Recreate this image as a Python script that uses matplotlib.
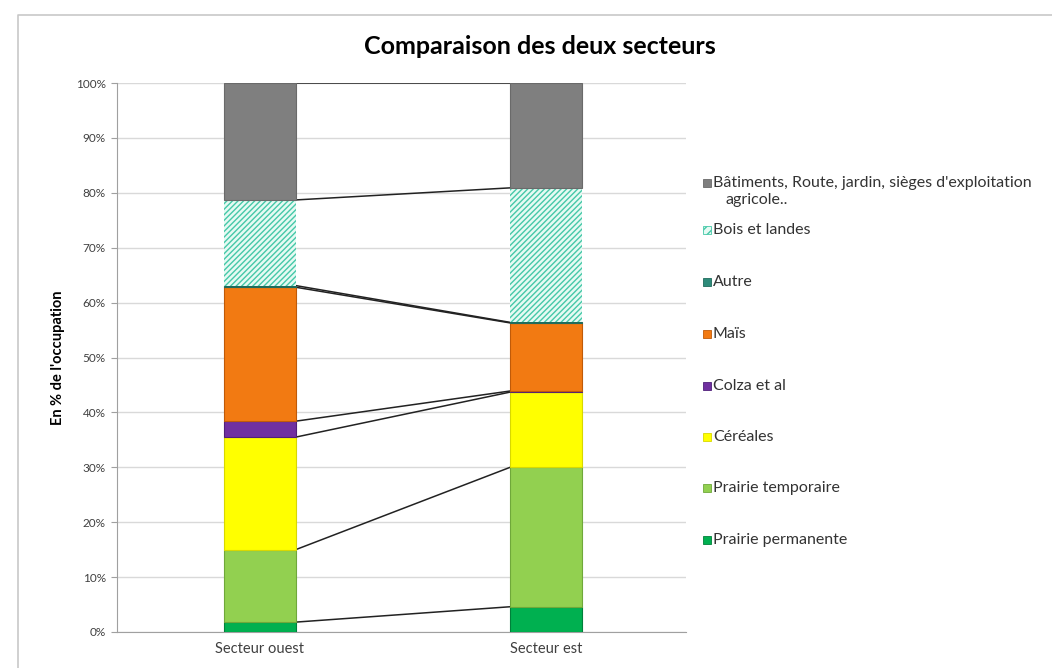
import matplotlib
matplotlib.use("Agg")
import matplotlib.pyplot as plt
import numpy as np
from matplotlib.patches import Rectangle
from matplotlib.lines import Line2D

plt.rcParams['font.family'] = ['Lato', 'DejaVu Sans']

sectors = ["Secteur ouest", "Secteur est"]
series = ["Prairie permanente", "Prairie temporaire", "Céréales", "Colza et al",
          "Maïs", "Autre", "Bois et landes",
          "Bâtiments, Route, jardin, sièges d'exploitation\nagricole.."]
prairie_permanente = [1.8, 4.6]
prairie_temporaire = [13.2, 25.4]
cereales = [20.5, 13.7]
colza = [2.9, 0.2]
mais = [24.4, 12.4]
autre = [0.3, 0.1]
bois = [15.6, 24.5]
batiments = [21.3, 19.1]
values = [prairie_permanente, prairie_temporaire, cereales, colza, mais, autre, bois, batiments]

colors = ["#00b050", "#92d050", "#ffff00", "#7030a0", "#f27a12", "#2e8b7a", "#e6faf3", "#7f7f7f"]
edges = ["#00803a", "#6fa83a", "#d8d800", "#50207a", "#c05a08", "#1f6b5c", "#45c8a8", "#6a6a6a"]

fig = plt.figure(figsize=(10.52, 6.68), dpi=100)
ax = fig.add_axes([117/1052, 1-632/668, (686-117)/1052, (632-83)/668])

x = np.arange(len(sectors))
w = 0.25
bottom = np.zeros(len(sectors))
tops = []
for i, (vals, c, e) in enumerate(zip(values, colors, edges)):
    vals = np.array(vals)
    if series[i] == "Bois et landes":
        ax.bar(x, vals, w, bottom=bottom, color=c, edgecolor=e, hatch="//////", linewidth=0, zorder=3)
    else:
        ax.bar(x, vals, w, bottom=bottom, color=c, edgecolor=e, linewidth=0.8, zorder=3)
    bottom = bottom + vals
    tops.append(bottom.copy())

for t in tops:
    ax.plot([x[0] + w/2, x[1] - w/2], [t[0], t[1]], color="#222222", lw=1.1, zorder=2)

ax.set_xlim(-0.5, 1.49)
ax.set_ylim(0, 100)
ax.set_yticks(np.arange(0, 101, 10))
ax.set_yticklabels([f"{v}%" for v in range(0, 101, 10)], fontsize=8.5, color="#404040")
ax.set_xticks(x)
ax.set_xticklabels(sectors, fontsize=10.5, color="#404040")
ax.tick_params(axis='x', length=0, pad=7)
ax.tick_params(axis='y', length=4, color="#a0a0a0", pad=4)
ax.yaxis.grid(True, color="#d9d9d9", lw=1, zorder=0)
for s in ["top", "right"]:
    ax.spines[s].set_visible(False)
for s in ["left", "bottom"]:
    ax.spines[s].set_color("#a0a0a0")
ax.set_ylabel("En % de l'occupation", fontsize=10.5, fontweight="bold", labelpad=8)

fig.text(540/1052, 1-47/668, "Comparaison des deux secteurs", ha="center", va="center",
         fontsize=18, fontweight="bold")

# legend (reverse order)
leg_y = [183, 230, 282, 334, 386, 437, 488, 540]
for lab, c, e, yy in zip(series[::-1], colors[::-1], edges[::-1], leg_y):
    rect = Rectangle((703/1052, 1-(yy+4)/668), 8/1052, 8/668, transform=fig.transFigure,
                     facecolor=c, edgecolor=e, lw=0.6,
                     hatch="////" if lab == "Bois et landes" else None)
    fig.patches.append(rect)
    if "\n" in lab:
        first, second = lab.split("\n")
        fig.text(713/1052, 1-yy/668, first, ha="left", va="center", fontsize=11.5, color="#333333")
        fig.text(725/1052, 1-(yy+17)/668, second, ha="left", va="center", fontsize=11.5, color="#333333")
    else:
        fig.text(713/1052, 1-yy/668, lab, ha="left", va="center", fontsize=11.5, color="#333333")

fig.add_artist(Line2D([18/1052, 18/1052, 1.0], [0.0, 1-15/668, 1-15/668],
                      transform=fig.transFigure, color="#c8c8c8", lw=1.2))

fig.savefig("out.png", dpi=100)
